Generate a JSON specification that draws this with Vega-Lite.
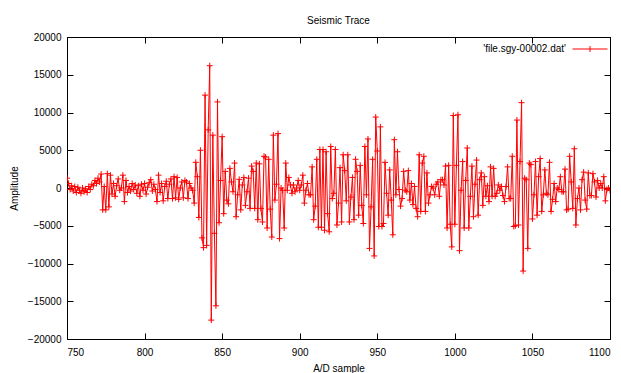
{
"$schema": "https://vega.github.io/schema/vega-lite/v6.json",
"width": 543, "height": 302,
"autosize": "none",
"padding": {"left": 67, "top": 37, "right": 11, "bottom": 34},
"background": "white",
"title": {"text": "Seismic Trace", "fontSize": 10, "fontWeight": "normal", "font": "Liberation Sans", "color": "black", "offset": 5, "anchor": "middle"},
"config": {
  "view": {"stroke": "black", "strokeWidth": 1},
  "font": "Liberation Sans",
  "axis": {"domain": false, "grid": false, "labelFontSize": 10, "titleFontSize": 10, "titleFontWeight": "normal", "labelColor": "black", "titleColor": "black", "tickColor": "black", "labelFont": "Liberation Sans", "titleFont": "Liberation Sans", "tickSize": -6}
},
"data": {"values": [
{"sample":750,"amplitude":1300},{"sample":751,"amplitude":600},{"sample":752,"amplitude":-200},{"sample":753,"amplitude":300},{"sample":754,"amplitude":-400},{"sample":755,"amplitude":200},{"sample":756,"amplitude":-600},{"sample":757,"amplitude":100},{"sample":758,"amplitude":-300},{"sample":759,"amplitude":-700},
{"sample":760,"amplitude":0},{"sample":761,"amplitude":-500},{"sample":762,"amplitude":-100},{"sample":763,"amplitude":-600},{"sample":764,"amplitude":200},{"sample":765,"amplitude":-200},{"sample":766,"amplitude":500},{"sample":767,"amplitude":300},{"sample":768,"amplitude":1000},{"sample":769,"amplitude":600},
{"sample":770,"amplitude":1300},{"sample":771,"amplitude":800},{"sample":772,"amplitude":1850},{"sample":773,"amplitude":-2900},{"sample":774,"amplitude":200},{"sample":775,"amplitude":-2900},{"sample":776,"amplitude":1900},{"sample":777,"amplitude":-2500},{"sample":778,"amplitude":1700},{"sample":779,"amplitude":-800},
{"sample":780,"amplitude":600},{"sample":781,"amplitude":-1100},{"sample":782,"amplitude":300},{"sample":783,"amplitude":1200},{"sample":784,"amplitude":-300},{"sample":785,"amplitude":0},{"sample":786,"amplitude":1700},{"sample":787,"amplitude":-1800},{"sample":788,"amplitude":1000},{"sample":789,"amplitude":-600},
{"sample":790,"amplitude":200},{"sample":791,"amplitude":-400},{"sample":792,"amplitude":600},{"sample":793,"amplitude":-200},{"sample":794,"amplitude":400},{"sample":795,"amplitude":-700},{"sample":796,"amplitude":300},{"sample":797,"amplitude":-1100},{"sample":798,"amplitude":500},{"sample":799,"amplitude":-300},
{"sample":800,"amplitude":600},{"sample":801,"amplitude":-800},{"sample":802,"amplitude":100},{"sample":803,"amplitude":700},{"sample":804,"amplitude":1100},{"sample":805,"amplitude":-400},{"sample":806,"amplitude":500},{"sample":807,"amplitude":-200},{"sample":808,"amplitude":-1800},{"sample":809,"amplitude":1700},
{"sample":810,"amplitude":-600},{"sample":811,"amplitude":600},{"sample":812,"amplitude":-1700},{"sample":813,"amplitude":200},{"sample":814,"amplitude":900},{"sample":815,"amplitude":-1400},{"sample":816,"amplitude":500},{"sample":817,"amplitude":1200},{"sample":818,"amplitude":-1400},{"sample":819,"amplitude":1500},
{"sample":820,"amplitude":-1300},{"sample":821,"amplitude":1400},{"sample":822,"amplitude":-1500},{"sample":823,"amplitude":0},{"sample":824,"amplitude":800},{"sample":825,"amplitude":-1300},{"sample":826,"amplitude":1000},{"sample":827,"amplitude":800},{"sample":828,"amplitude":-1400},{"sample":829,"amplitude":600},
{"sample":830,"amplitude":0},{"sample":831,"amplitude":-300},{"sample":832,"amplitude":-2000},{"sample":833,"amplitude":3400},{"sample":834,"amplitude":1500},{"sample":835,"amplitude":-3900},{"sample":836,"amplitude":5000},{"sample":837,"amplitude":-6600},{"sample":838,"amplitude":-7900},{"sample":839,"amplitude":12300},
{"sample":840,"amplitude":-7600},{"sample":841,"amplitude":7700},{"sample":842,"amplitude":16200},{"sample":843,"amplitude":-17500},{"sample":844,"amplitude":7000},{"sample":845,"amplitude":-6000},{"sample":846,"amplitude":-15600},{"sample":847,"amplitude":11400},{"sample":848,"amplitude":-4600},{"sample":849,"amplitude":1000},
{"sample":850,"amplitude":6800},{"sample":851,"amplitude":-3400},{"sample":852,"amplitude":2200},{"sample":853,"amplitude":-1600},{"sample":854,"amplitude":-2100},{"sample":855,"amplitude":2600},{"sample":856,"amplitude":800},{"sample":857,"amplitude":-500},{"sample":858,"amplitude":3300},{"sample":859,"amplitude":-3800},
{"sample":860,"amplitude":-900},{"sample":861,"amplitude":1150},{"sample":862,"amplitude":-2900},{"sample":863,"amplitude":400},{"sample":864,"amplitude":1400},{"sample":865,"amplitude":-2300},{"sample":866,"amplitude":-500},{"sample":867,"amplitude":1300},{"sample":868,"amplitude":-2700},{"sample":869,"amplitude":2900},
{"sample":870,"amplitude":2200},{"sample":871,"amplitude":-2700},{"sample":872,"amplitude":3300},{"sample":873,"amplitude":-4200},{"sample":874,"amplitude":3200},{"sample":875,"amplitude":-2700},{"sample":876,"amplitude":-4500},{"sample":877,"amplitude":4200},{"sample":878,"amplitude":4100},{"sample":879,"amplitude":-5300},
{"sample":880,"amplitude":3800},{"sample":881,"amplitude":-2800},{"sample":882,"amplitude":-6500},{"sample":883,"amplitude":7000},{"sample":884,"amplitude":-1600},{"sample":885,"amplitude":500},{"sample":886,"amplitude":7200},{"sample":887,"amplitude":-6700},{"sample":888,"amplitude":0},{"sample":889,"amplitude":-300},
{"sample":890,"amplitude":-5300},{"sample":891,"amplitude":3300},{"sample":892,"amplitude":-300},{"sample":893,"amplitude":1400},{"sample":894,"amplitude":400},{"sample":895,"amplitude":-700},{"sample":896,"amplitude":400},{"sample":897,"amplitude":-500},{"sample":898,"amplitude":0},{"sample":899,"amplitude":1000},
{"sample":900,"amplitude":-300},{"sample":901,"amplitude":400},{"sample":902,"amplitude":1700},{"sample":903,"amplitude":-2000},{"sample":904,"amplitude":-300},{"sample":905,"amplitude":600},{"sample":906,"amplitude":-900},{"sample":907,"amplitude":-900},{"sample":908,"amplitude":2800},{"sample":909,"amplitude":-4200},
{"sample":910,"amplitude":-2400},{"sample":911,"amplitude":3800},{"sample":912,"amplitude":-5200},{"sample":913,"amplitude":5100},{"sample":914,"amplitude":-5200},{"sample":915,"amplitude":5100},{"sample":916,"amplitude":-5600},{"sample":917,"amplitude":4800},{"sample":918,"amplitude":-3400},{"sample":919,"amplitude":-5800},
{"sample":920,"amplitude":5500},{"sample":921,"amplitude":-1400},{"sample":922,"amplitude":-700},{"sample":923,"amplitude":5100},{"sample":924,"amplitude":-4900},{"sample":925,"amplitude":-2000},{"sample":926,"amplitude":2700},{"sample":927,"amplitude":-4500},{"sample":928,"amplitude":4400},{"sample":929,"amplitude":2300},
{"sample":930,"amplitude":-1700},{"sample":931,"amplitude":4400},{"sample":932,"amplitude":-4500},{"sample":933,"amplitude":-1200},{"sample":934,"amplitude":1400},{"sample":935,"amplitude":-4200},{"sample":936,"amplitude":3800},{"sample":937,"amplitude":2200},{"sample":938,"amplitude":-3600},{"sample":939,"amplitude":3000},
{"sample":940,"amplitude":-2300},{"sample":941,"amplitude":-4700},{"sample":942,"amplitude":5500},{"sample":943,"amplitude":-900},{"sample":944,"amplitude":6500},{"sample":945,"amplitude":-8000},{"sample":946,"amplitude":-2500},{"sample":947,"amplitude":3800},{"sample":948,"amplitude":-9000},{"sample":949,"amplitude":9400},
{"sample":950,"amplitude":4900},{"sample":951,"amplitude":-5100},{"sample":952,"amplitude":8100},{"sample":953,"amplitude":-5100},{"sample":954,"amplitude":-4700},{"sample":955,"amplitude":3400},{"sample":956,"amplitude":-700},{"sample":957,"amplitude":-3600},{"sample":958,"amplitude":2400},{"sample":959,"amplitude":-1600},
{"sample":960,"amplitude":-6200},{"sample":961,"amplitude":6400},{"sample":962,"amplitude":-900},{"sample":963,"amplitude":4800},{"sample":964,"amplitude":-200},{"sample":965,"amplitude":-2400},{"sample":966,"amplitude":-1400},{"sample":967,"amplitude":2200},{"sample":968,"amplitude":-300},{"sample":969,"amplitude":-500},
{"sample":970,"amplitude":2300},{"sample":971,"amplitude":-1600},{"sample":972,"amplitude":600},{"sample":973,"amplitude":-2200},{"sample":974,"amplitude":200},{"sample":975,"amplitude":-2700},{"sample":976,"amplitude":-3800},{"sample":977,"amplitude":4400},{"sample":978,"amplitude":-3100},{"sample":979,"amplitude":3300},
{"sample":980,"amplitude":4200},{"sample":981,"amplitude":-3100},{"sample":982,"amplitude":2000},{"sample":983,"amplitude":-2000},{"sample":984,"amplitude":-900},{"sample":985,"amplitude":200},{"sample":986,"amplitude":0},{"sample":987,"amplitude":-900},{"sample":988,"amplitude":500},{"sample":989,"amplitude":800},
{"sample":990,"amplitude":-1100},{"sample":991,"amplitude":1100},{"sample":992,"amplitude":1100},{"sample":993,"amplitude":400},{"sample":994,"amplitude":2900},{"sample":995,"amplitude":-5300},{"sample":996,"amplitude":3000},{"sample":997,"amplitude":-4800},{"sample":998,"amplitude":-7800},{"sample":999,"amplitude":9600},
{"sample":1000,"amplitude":-4800},{"sample":1001,"amplitude":3000},{"sample":1002,"amplitude":9700},{"sample":1003,"amplitude":-8300},{"sample":1004,"amplitude":-300},{"sample":1005,"amplitude":3500},{"sample":1006,"amplitude":-5300},{"sample":1007,"amplitude":1000},{"sample":1008,"amplitude":5300},{"sample":1009,"amplitude":-5300},
{"sample":1010,"amplitude":-1100},{"sample":1011,"amplitude":2900},{"sample":1012,"amplitude":-3800},{"sample":1013,"amplitude":500},{"sample":1014,"amplitude":3700},{"sample":1015,"amplitude":-3600},{"sample":1016,"amplitude":1100},{"sample":1017,"amplitude":2000},{"sample":1018,"amplitude":-2300},{"sample":1019,"amplitude":1500},
{"sample":1020,"amplitude":-1100},{"sample":1021,"amplitude":300},{"sample":1022,"amplitude":-1800},{"sample":1023,"amplitude":2800},{"sample":1024,"amplitude":-1100},{"sample":1025,"amplitude":2600},{"sample":1026,"amplitude":-1100},{"sample":1027,"amplitude":-700},{"sample":1028,"amplitude":400},{"sample":1029,"amplitude":-300},
{"sample":1030,"amplitude":200},{"sample":1031,"amplitude":-1000},{"sample":1032,"amplitude":-1800},{"sample":1033,"amplitude":200},{"sample":1034,"amplitude":2800},{"sample":1035,"amplitude":-1400},{"sample":1036,"amplitude":-1400},{"sample":1037,"amplitude":4200},{"sample":1038,"amplitude":-5100},{"sample":1039,"amplitude":-5000},
{"sample":1040,"amplitude":9000},{"sample":1041,"amplitude":-4900},{"sample":1042,"amplitude":3500},{"sample":1043,"amplitude":11300},{"sample":1044,"amplitude":-11000},{"sample":1045,"amplitude":1300},{"sample":1046,"amplitude":1100},{"sample":1047,"amplitude":-8000},{"sample":1048,"amplitude":3300},{"sample":1049,"amplitude":3100},
{"sample":1050,"amplitude":-4100},{"sample":1051,"amplitude":-900},{"sample":1052,"amplitude":3500},{"sample":1053,"amplitude":-3600},{"sample":1054,"amplitude":1500},{"sample":1055,"amplitude":3900},{"sample":1056,"amplitude":-3100},{"sample":1057,"amplitude":-900},{"sample":1058,"amplitude":2400},{"sample":1059,"amplitude":-700},
{"sample":1060,"amplitude":-900},{"sample":1061,"amplitude":3400},{"sample":1062,"amplitude":-3100},{"sample":1063,"amplitude":-1500},{"sample":1064,"amplitude":600},{"sample":1065,"amplitude":-1800},{"sample":1066,"amplitude":0},{"sample":1067,"amplitude":-200},{"sample":1068,"amplitude":1500},{"sample":1069,"amplitude":-500},
{"sample":1070,"amplitude":-500},{"sample":1071,"amplitude":2500},{"sample":1072,"amplitude":-2900},{"sample":1073,"amplitude":-2800},{"sample":1074,"amplitude":4200},{"sample":1075,"amplitude":800},{"sample":1076,"amplitude":-2700},{"sample":1077,"amplitude":5200},{"sample":1078,"amplitude":-4900},{"sample":1079,"amplitude":-1400},
{"sample":1080,"amplitude":0},{"sample":1081,"amplitude":-2900},{"sample":1082,"amplitude":1100},{"sample":1083,"amplitude":2100},{"sample":1084,"amplitude":-1600},{"sample":1085,"amplitude":-2800},{"sample":1086,"amplitude":2000},{"sample":1087,"amplitude":-1000},{"sample":1088,"amplitude":-1000},{"sample":1089,"amplitude":1900},
{"sample":1090,"amplitude":800},{"sample":1091,"amplitude":-1200},{"sample":1092,"amplitude":1000},{"sample":1093,"amplitude":0},{"sample":1094,"amplitude":600},{"sample":1095,"amplitude":0},{"sample":1096,"amplitude":1500},{"sample":1097,"amplitude":-1700},{"sample":1098,"amplitude":-200},{"sample":1099,"amplitude":0},
{"sample":1100,"amplitude":-300}
]},
"resolve": {"axis": {"x": "independent", "y": "independent"}},
"layer": [
  {
    "mark": {"type": "line", "strokeWidth": 1, "clip": true},
    "encoding": {
      "x": {"field": "sample", "type": "quantitative", "scale": {"domain": [750, 1100], "nice": false, "zero": false},
            "axis": {"orient": "bottom", "values": [750, 800, 850, 900, 950, 1000, 1050, 1100], "title": "A/D sample", "labelPadding": 14, "titlePadding": 6, "format": "d"}},
      "y": {"field": "amplitude", "type": "quantitative", "scale": {"domain": [-20000, 20000], "nice": false, "zero": false},
            "axis": {"orient": "left", "values": [-20000, -15000, -10000, -5000, 0, 5000, 10000, 15000, 20000], "title": "Amplitude", "labelPadding": 12, "titlePadding": 8, "format": "d"}},
      "color": {"datum": "'file.sgy-00002.dat'", "type": "nominal", "scale": {"range": ["#ff0000"]},
                "legend": {"orient": "none", "legendX": 505, "legendY": -6, "title": null, "padding": 0, "symbolType": "M-1,0H1M0,-0.17V0.17", "symbolSize": 1225, "symbolStrokeColor": "#ff0000", "symbolFillColor": "transparent", "symbolStrokeWidth": 1, "labelAlign": "right", "labelOffset": -42, "labelFontSize": 10, "labelFont": "Liberation Sans", "labelColor": "black"}}
    }
  },
  {
    "mark": {"type": "point", "shape": "M-1,0H1M0,-1V1", "filled": false, "color": "#ff0000", "size": 36, "strokeWidth": 1, "opacity": 1, "clip": true},
    "encoding": {
      "x": {"field": "sample", "type": "quantitative", "axis": null},
      "y": {"field": "amplitude", "type": "quantitative", "axis": null}
    }
  },
  {
    "mark": {"type": "point", "opacity": 0},
    "encoding": {
      "x": {"field": "sample", "type": "quantitative", "axis": {"orient": "top", "values": [750, 800, 850, 900, 950, 1000, 1050, 1100], "labels": false, "title": null}},
      "y": {"field": "amplitude", "type": "quantitative", "axis": {"orient": "right", "values": [-20000, -15000, -10000, -5000, 0, 5000, 10000, 15000, 20000], "labels": false, "title": null}}
    }
  }
]
}
